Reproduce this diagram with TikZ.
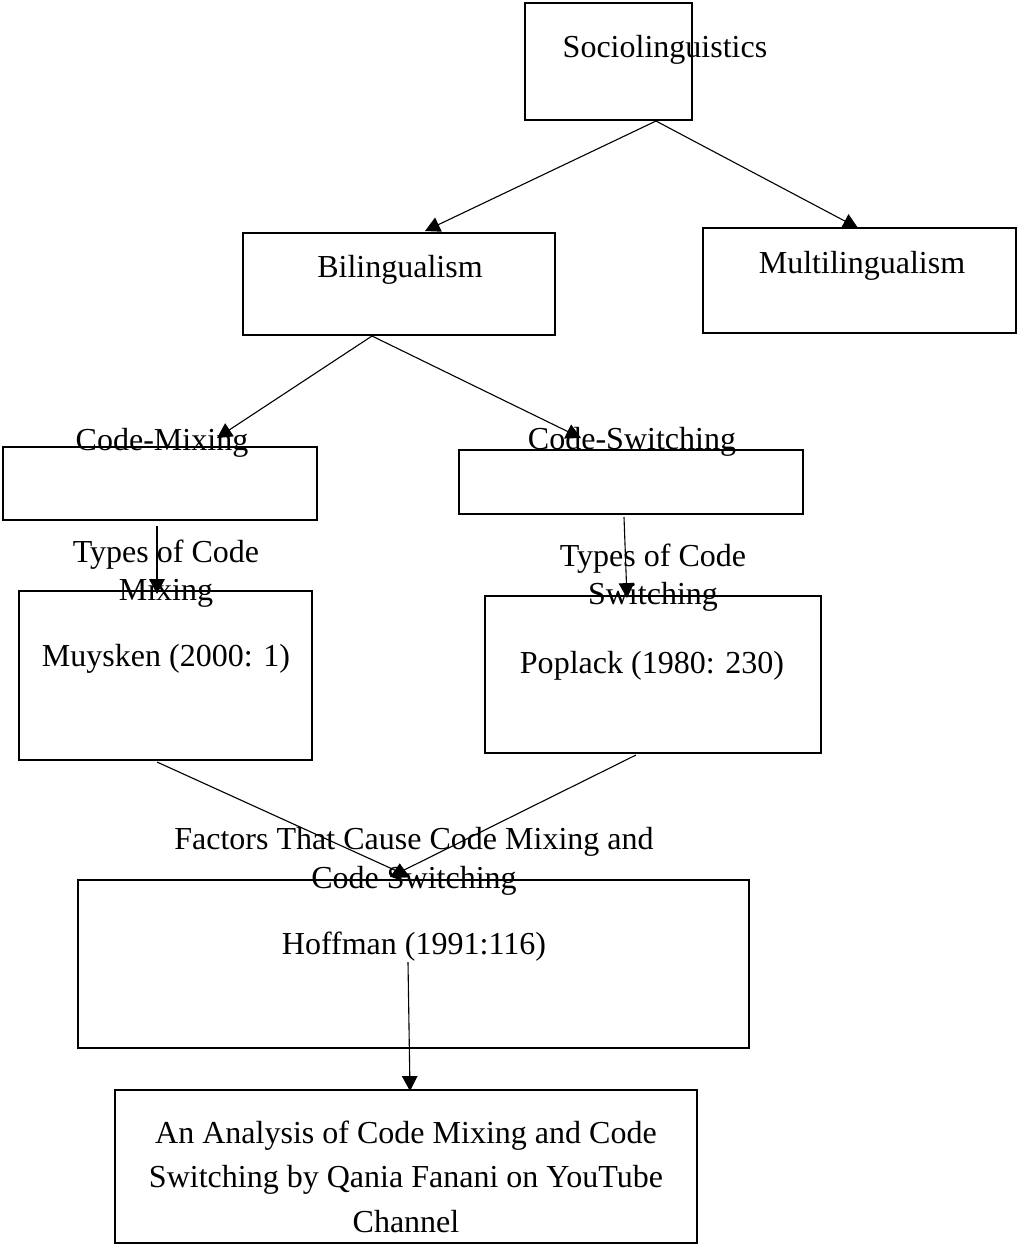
\documentclass[tikz,border=0pt]{standalone}
\usepackage{fontspec}
\setmainfont{Liberation Serif}
\usepackage{tikz}
\usetikzlibrary{arrows.meta}

\begin{document}
\begin{tikzpicture}[x=0.3623pt, y=-0.3623pt,
    box/.style={draw, line width=0.75pt, inner sep=0pt},
    lbl/.style={font=\fontsize{11.6}{13.6}\selectfont, align=center, inner sep=0pt, anchor=base},
    arr/.style={line width=0.4pt, -{Triangle[length=5.4pt, width=5.6pt]}}]
            \useasboundingbox (0,0) rectangle (1020,1246);
            % boxes
            \node (socio) at (608.5, 61.5) [box, minimum width=60.5pt, minimum height=42.4pt] {};
            \node (bil) at (399, 284) [box, minimum width=113pt, minimum height=37pt] {};
            \node (multi) at (859.5, 280.5) [box, minimum width=113.4pt, minimum height=38pt] {};
            \node (mix) at (160, 483.5) [box, minimum width=113.8pt, minimum height=26.4pt] {};
            \node (swi) at (631, 482) [box, minimum width=124.6pt, minimum height=23.2pt] {};
            \node (muy) at (165.5, 675.5) [box, minimum width=106.2pt, minimum height=61.2pt] {};
            \node (pop) at (653, 674.5) [box, minimum width=121.7pt, minimum height=56.9pt] {};
            \node (hoff) at (413.5, 964) [box, minimum width=243.1pt, minimum height=60.9pt] {};
            \node (fin) at (406, 1166.5) [box, minimum width=210.9pt, minimum height=55.4pt] {};
            % texts (base = last line)
            \node (sociotxt) at (665, 57) [lbl] {Sociolinguistics};
            \node (biltxt) at (400, 277) [lbl] {Bilingualism};
            \node (multitxt) at (862, 273) [lbl] {Multilingualism};
            \node (mixtxt) at (162, 450) [lbl] {Code-Mixing};
            \node (switxt) at (632, 449) [lbl] {Code-Switching};
            \node (muytop) at (166, 600) [lbl] {Types of Code\\Mixing};
            \node (poptop) at (653, 604) [lbl] {Types of Code\\Switching};
            \node (muytxt) at (166, 666) [lbl] {Muysken (2000: 1)};
            \node (poptxt) at (652, 673) [lbl] {Poplack (1980: 230)};
            \node (hofftop) at (414, 888) [lbl, font=\fontsize{11.6}{13.8}\selectfont] {Factors That Cause Code Mixing and\\Code Switching};
            \node (hofftxt) at (414, 954) [lbl] {Hoffman (1991:116)};
            \node (fintxt) at (406, 1232) [lbl, font=\fontsize{11.6}{16}\selectfont] {An Analysis of Code Mixing and Code\\Switching by Qania Fanani on YouTube\\Channel};
            % arrow ends
            \coordinate (s0) at (656, 121);
            \coordinate (s1) at (425, 231);
            \coordinate (s2) at (858, 228);
            \coordinate (b0) at (372, 336);
            \coordinate (b1) at (217, 438);
            \coordinate (b2) at (581, 438);
            \coordinate (m0) at (157, 526);
            \coordinate (m1) at (157, 594);
            \coordinate (w0) at (624, 517);
            \coordinate (w1) at (627, 598);
            \coordinate (u0) at (157, 762);
            \coordinate (u1) at (410, 877);
            \coordinate (p0) at (636, 755);
            \coordinate (p1) at (390, 877);
            \coordinate (h0) at (408, 962);
            \coordinate (h1) at (410, 1091);
            \draw [arr] (s0) -- (s1);
            \draw [arr] (s0) -- (s2);
            \draw [arr] (b0) -- (b1);
            \draw [arr] (b0) -- (b2);
            \draw [arr] (m0) -- (m1);
            \draw [arr] (w0) -- (w1);
            \draw [arr] (u0) -- (u1);
            \draw [arr] (p0) -- (p1);
            \draw [arr] (h0) -- (h1);
        \end{tikzpicture}
\end{document}
